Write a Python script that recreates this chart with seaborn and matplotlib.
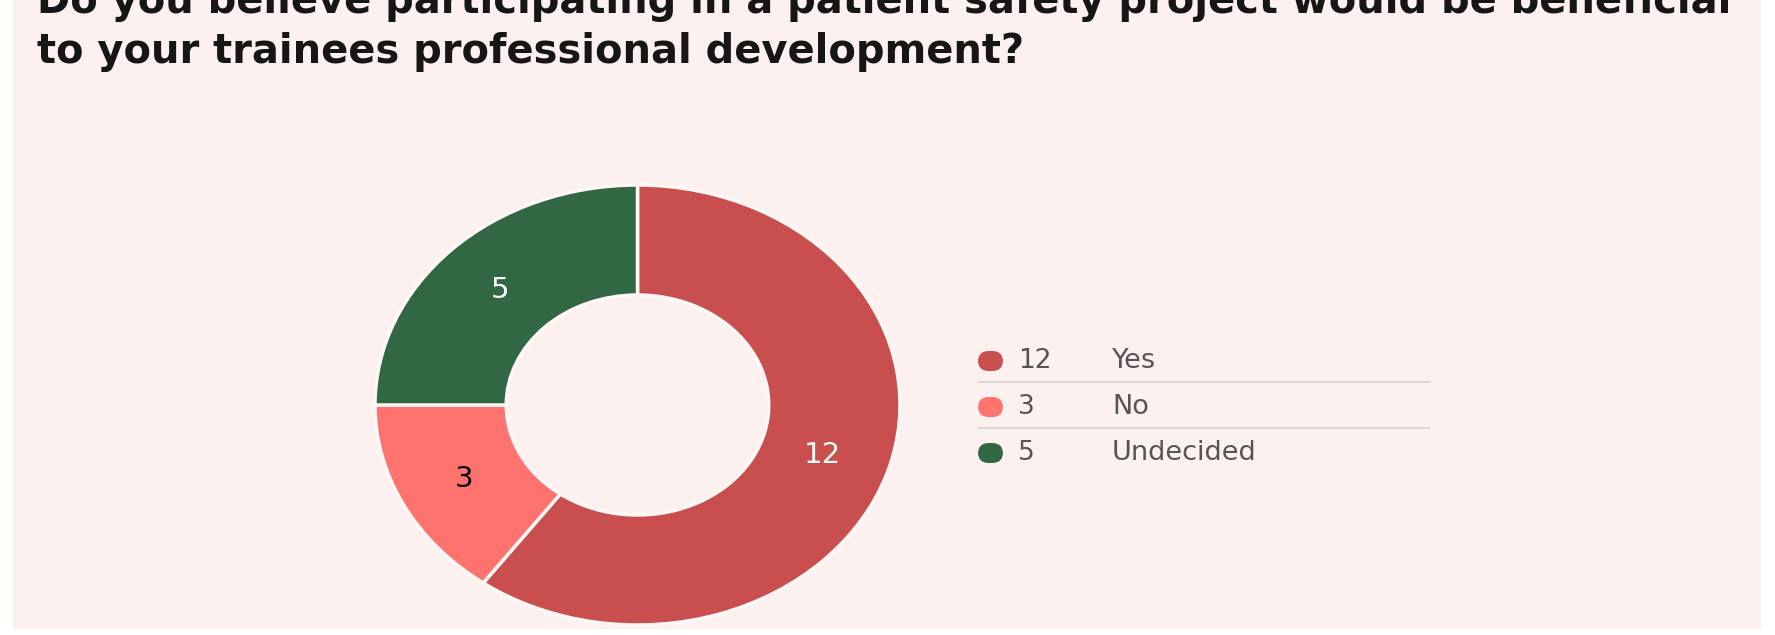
import matplotlib
matplotlib.use("Agg")
import matplotlib.pyplot as plt
import seaborn as sns
from matplotlib.patches import Rectangle, FancyBboxPatch
from matplotlib.lines import Line2D

# ---- data ----
categories = ["Yes", "No", "Undecided"]
counts = [12, 3, 5]
colors = ["#C84F4E", "#FF736F", "#316742"]
label_colors = ["white", "black", "white"]
title_lines = [
    "Do you believe participating in a patient safety project would be beneficial",
    "to your trainees professional development?",
]

sns.set_theme(style="white")
plt.rcParams['font.family'] = ['DejaVu Sans']

W, H = 1775, 635
fig = plt.figure(figsize=(W / 100, H / 100), dpi=100)
fig.patch.set_facecolor('white')
bg = '#FDF1F0'

def fx(px):
    return px / W

def fy(py):
    return 1 - py / H

# panel background
fig.add_artist(Rectangle((fx(13), fy(629)), fx(1761) - fx(13), 1 - fy(629) + 0.01,
                         transform=fig.transFigure, facecolor=bg, edgecolor='none', zorder=0))

# ---- donut ----
ax = fig.add_axes([fx(375), fy(625), fx(900) - fx(375), fy(185) - fy(625)])
ax.set_facecolor('none')
wedges, texts = ax.pie(
    counts, colors=colors, startangle=90, counterclock=False,
    labels=[str(c) for c in counts], labeldistance=0.74,
    wedgeprops=dict(width=0.5, edgecolor='#FFF7F6', linewidth=2.5, joinstyle='round'),
    textprops=dict(fontsize=21),
)
for w in wedges:
    w.set_clip_on(False)
for t, c in zip(texts, label_colors):
    t.set_color(c)
    t.set_ha('center')
    t.set_va('center')
ax.set_aspect('auto')
ax.set_xlim(-1, 1)
ax.set_ylim(-1, 1)
ax.axis('off')

# ---- legend ----
row_y = [361, 407, 453]
sep_y = [382, 428]
for c, n, lab, y in zip(colors, counts, categories, row_y):
    fig.add_artist(FancyBboxPatch((fx(978), fy(y + 10)), fx(1003) - fx(978), fy(y - 10) - fy(y + 10),
                                  boxstyle="round,pad=0,rounding_size=0.006",
                                  transform=fig.transFigure, facecolor=c, edgecolor='none',
                                  mutation_aspect=W / H))
    fig.text(fx(1018), fy(y), str(n), fontsize=19, color='#555555', va='center', ha='left')
    fig.text(fx(1112), fy(y), lab, fontsize=19.5, color='#555555', va='center', ha='left')
for y in sep_y:
    fig.add_artist(Line2D([fx(978), fx(1430)], [fy(y), fy(y)], transform=fig.transFigure,
                          color='#D9D2D1', linewidth=1.2))

# ---- title ----
fs = 28
t2 = fig.text(fx(37), fy(63), title_lines[1], fontsize=fs, fontweight='bold',
              color='#161616', va='baseline', ha='left')
fig.canvas.draw()
bb = t2.get_window_extent()
fs = fs * (1024 - 37) / bb.width
t2.set_fontsize(fs)
fig.text(fx(37), fy(13), title_lines[0], fontsize=fs, fontweight='bold',
         color='#161616', va='baseline', ha='left')

fig.savefig("out.png", dpi=100, facecolor='white')
